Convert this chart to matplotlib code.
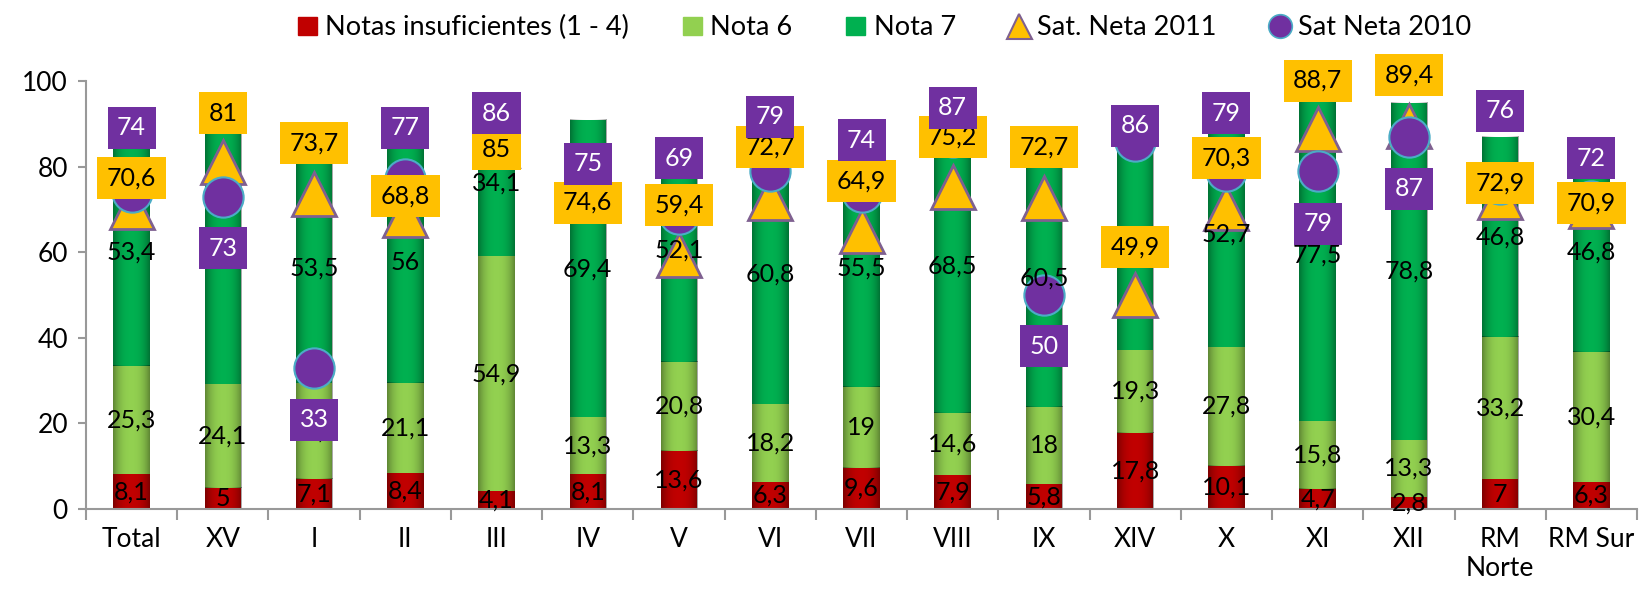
"""
Notas y satisfaccion neta por region (barras apiladas + marcadores)
"""
import numpy as np
import matplotlib
matplotlib.use("Agg")
import matplotlib.pyplot as plt
from matplotlib.lines import Line2D
from matplotlib.patches import Patch

categories = ["Total", "XV", "I", "II", "III", "IV", "V", "VI", "VII", "VIII",
              "IX", "XIV", "X", "XI", "XII", "RM\nNorte", "RM Sur"]
insuficientes = [8.1, 5, 7.1, 8.4, 4.1, 8.1, 13.6, 6.3, 9.6, 7.9, 5.8, 17.8, 10.1, 4.7, 2.8, 7, 6.3]
nota6 = [25.3, 24.1, 22.4, 21.1, 54.9, 13.3, 20.8, 18.2, 19, 14.6, 18, 19.3, 27.8, 15.8, 13.3, 33.2, 30.4]
nota7 = [53.4, 60, 53.5, 56, 34.1, 69.4, 52.1, 60.8, 55.5, 68.5, 60.5, 48.5, 52.7, 77.5, 78.8, 46.8, 46.8]
sat_2011 = [70.6, 81, 73.7, 68.8, 85, 74.6, 59.4, 72.7, 64.9, 75.2, 72.7, 49.9, 70.3, 88.7, 89.4, 72.9, 70.9]
sat_2010 = [74, 73, 33, 77, 86, 75, 69, 79, 74, 87, 50, 86, 79, 79, 87, 76, 72]

# where the value boxes sit relative to their marker (axis units)
off_2011 = [6.7, 11.5, 11.8, 4.3, -1, -3, 11.6, 11.8, 11.7, 11.7, 11.8, 11.4, 11.6, 11.4, 11.9, 3.3, 0.6]
off_2010 = [15.1, -12.1, -12.2, 12.1, 6.5, 5.7, 12.9, 12.7, 12.1, 6.7, -12, 3.6, 13.5, -12.3, -12.2, 17, 10]

RED = "#C00000"
LIGHT = "#92D050"
GREEN = "#00B050"
ORANGE = "#FFC000"
PURPLE = "#7030A0"

plt.rcParams["font.family"] = ["Lato", "DejaVu Sans"]


def fmt(v):
    return f"{v:g}".replace(".", ",")


def shade(ax, bars):
    # cylinder-like shading: darker at the edges of each bar
    xs = np.linspace(-1, 1, 64)
    alpha = 0.35 * np.abs(xs) ** 2.5
    img = np.zeros((1, 64, 4))
    img[0, :, 3] = alpha
    for b in bars:
        x0, y0 = b.get_x(), b.get_y()
        ax.imshow(img, extent=(x0, x0 + b.get_width(), y0, y0 + b.get_height()),
                  aspect="auto", zorder=1.5, interpolation="bilinear")


def main():
    x = np.arange(len(categories))
    ins = np.array(insuficientes)
    n6 = np.array(nota6)
    n7 = np.array(nota7)

    fig = plt.figure(figsize=(16.5, 6), dpi=100)
    ax = fig.add_axes([86 / 1650, 91 / 600, (1637 - 86) / 1650, (509 - 81) / 600])

    w = 0.4
    b1 = ax.bar(x, ins, w, color=RED, zorder=1)
    b2 = ax.bar(x, n6, w, bottom=ins, color=LIGHT, zorder=1)
    b3 = ax.bar(x, n7, w, bottom=ins + n6, color=GREEN, zorder=1)
    for bars in (b1, b2, b3):
        shade(ax, bars)

    ax.plot(x, sat_2011, ls="none", marker="^", ms=31, mfc=ORANGE, mec="#7F6090",
            mew=2, zorder=3)
    ax.plot(x, sat_2010, ls="none", marker="o", ms=29, mfc=PURPLE, mec="#4BACC6",
            mew=1.5, zorder=4)

    # segment values
    for vals, base in ((ins, 0), (n6, ins), (n7, ins + n6)):
        for xi, v, b in zip(x, vals, np.broadcast_to(base, vals.shape)):
            ax.text(xi, b + v / 2, fmt(v), ha="center", va="center",
                    fontsize=18, color="black", zorder=5)

    # satisfaction boxes
    for xi, v, o in zip(x, sat_2011, off_2011):
        ax.text(xi, v + o, fmt(v), ha="center", va="center", fontsize=18,
                color="black", zorder=6,
                bbox=dict(boxstyle="square,pad=0.38", fc=ORANGE, ec="none"))
    for xi, v, o in zip(x, sat_2010, off_2010):
        ax.text(xi, v + o, fmt(v), ha="center", va="center", fontsize=18,
                color="white", zorder=7,
                bbox=dict(boxstyle="square,pad=0.38", fc=PURPLE, ec="none"))

    ax.set_xlim(-0.5, len(categories) - 0.5)
    ax.set_ylim(0, 100)
    ax.set_yticks(np.arange(0, 101, 20))
    ax.set_xticks(x)
    ax.set_xticklabels(categories)
    ax.set_xticks(np.arange(-0.5, len(categories)), minor=True)
    ax.tick_params(axis="x", which="major", length=0, pad=13, labelsize=19)
    ax.tick_params(axis="x", which="minor", length=8, width=1.5, color="#999999")
    ax.tick_params(axis="y", length=6, width=1.5, color="#999999", pad=7, labelsize=19)
    for side in ("top", "right"):
        ax.spines[side].set_visible(False)
    for side in ("left", "bottom"):
        ax.spines[side].set_color("#999999")
        ax.spines[side].set_linewidth(1.5)

    handles = [
        Patch(color=RED, label="Notas insuficientes (1 - 4)"),
        Patch(color=LIGHT, label="Nota 6"),
        Patch(color=GREEN, label="Nota 7"),
        Line2D([], [], ls="none", marker="^", ms=18, mfc=ORANGE, mec="#7F6090", mew=1.5,
               label="Sat. Neta 2011"),
        Line2D([], [], ls="none", marker="o", ms=17, mfc=PURPLE, mec="#4BACC6", mew=1.2,
               label="Sat Neta 2010"),
    ]
    fig.legend(handles=handles, loc="upper center", bbox_to_anchor=(0.536, 1.015),
               ncol=5, frameon=False, fontsize=19.5, handlelength=0.7, handleheight=0.7,
               handletextpad=0.3, columnspacing=2.0)

    fig.savefig("out.png", dpi=100)


if __name__ == "__main__":
    main()
